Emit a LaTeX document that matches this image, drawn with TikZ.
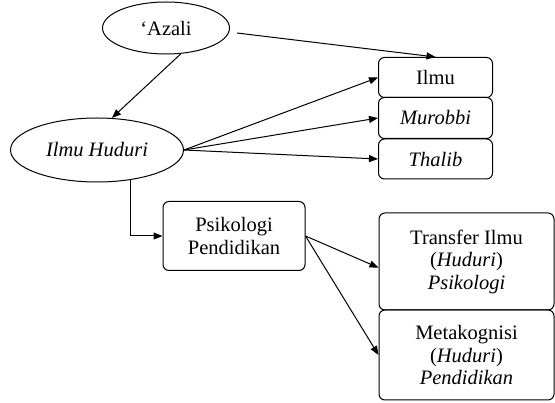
\documentclass[tikz,border=0pt]{standalone}
\usepackage{fontspec}
\setmainfont{Liberation Serif}
\usetikzlibrary{shapes.geometric,arrows.meta}

\begin{document}
\begin{tikzpicture}[x=1pt,y=-1pt,
	kotak/.style={draw, rounded corners=6pt, align=center, inner sep=0pt, font=\fontsize{20.5}{22.5}\selectfont},
	elips/.style={draw, ellipse, inner sep=0pt, font=\fontsize{20.5}{22.5}\selectfont},
	panah/.style={-{Triangle[length=9pt,width=7pt]}}]
	\useasboundingbox (0,0) rectangle (555,403);
	\begin{scope}[line width=1pt]
	\node [elips, minimum width=127, minimum height=52] (azali) at (166,28) {‘Azali};
	\node [elips, minimum width=173, minimum height=64] (huduri) at (97,150) {\textit{Ilmu Huduri}};
	\node [kotak, minimum width=114, minimum height=40] (ilmu) at (435.5,77.5) {Ilmu};
	\node [kotak, minimum width=114, minimum height=41] (murobbi) at (435.5,118) {\textit{Murobbi}};
	\node [kotak, minimum width=114, minimum height=40] (thalib) at (435.5,159) {\textit{Thalib}};
	\node [kotak, minimum width=142, minimum height=69] (psiko) at (234,236) {Psikologi\\Pendidikan};
	\node [kotak, minimum width=175, minimum height=97] (transfer) at (466.5,261.5) {Transfer Ilmu\\(\textit{Huduri})\\\textit{Psikologi}};
	\node [kotak, minimum width=175, minimum height=90] (meta) at (466.5,355) {Metakognisi\\(\textit{Huduri})\\\textit{Pendidikan}};
	\draw [panah] ([shift={(7,5)}]azali.east) -- (ilmu.north);
	\draw [panah] (azali.-60) -- (huduri.65);
	\foreach \tujuan in {ilmu, murobbi, thalib}
	{
		\draw [panah] (huduri.east) -- (\tujuan.west);
	}
	\draw [panah] (huduri.-42) |- (psiko.west);
	\draw [panah] (psiko.east) -- (transfer.184);
	\draw [panah] (psiko.east) -- (meta.west);
	\end{scope}
\end{tikzpicture}
\end{document}
